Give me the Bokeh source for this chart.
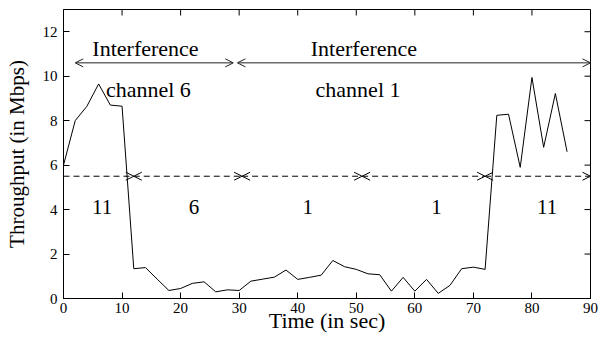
import math
from bokeh.plotting import figure
from bokeh.models import Arrow, OpenHead, Range1d, FixedTicker
from bokeh.core.properties import value
from bokeh.embed import file_html
from bokeh.resources import INLINE

# ---- data ----
time_s = [0, 2, 4, 6, 8, 10, 12, 14, 16, 18, 20, 22, 24, 26, 28, 30, 32, 34, 36, 38, 40, 42,
          44, 46, 48, 50, 52, 54, 56, 58, 60, 62, 64, 66, 68, 70, 72, 74, 76, 78, 80, 82, 84, 86]
throughput = [6.0, 8.0, 8.65, 9.65, 8.7, 8.65, 1.34, 1.39, 0.87, 0.36, 0.45, 0.68, 0.75, 0.30,
              0.39, 0.36, 0.78, 0.87, 0.96, 1.28, 0.86, 0.95, 1.05, 1.71, 1.43, 1.31, 1.11, 1.07,
              0.33, 0.95, 0.33, 0.86, 0.23, 0.59, 1.34, 1.41, 1.31, 8.24, 8.29, 5.9, 9.94, 6.8,
              9.22, 6.6]

x_ticks = [0, 10, 20, 30, 40, 50, 60, 70, 80, 90]
y_ticks = [0, 2, 4, 6, 8, 10, 12]
x_min, x_max = 0, 90
y_min, y_max = 0, 13

# interference periods (top arrows)
interf_start = [2, 29.7]
interf_end = [29, 90]
interf_y = 10.6
interf_label_x = [14.0, 51.3]
interf_label_y = [11.24, 11.24]
interf_labels = ["Interference", "Interference"]
channel_label_x = [14.5, 50.3]
channel_label_y = [9.4, 9.4]
channel_labels = ["channel 6", "channel 1"]

# operating channel periods (dashed arrows)
chan_bounds = [0, 12, 30.5, 51, 72, 90]
chan_y = 5.5
chan_label_x = [6.6, 22.3, 41.7, 63.7, 82.6]
chan_label_y = [4.11, 4.11, 4.11, 4.11, 4.11]
chan_labels = ["11", "6", "1", "1", "11"]

FONT = "Liberation Serif"

p = figure(width=598, height=335, x_range=Range1d(x_min, x_max), y_range=Range1d(y_min, y_max),
           output_backend="svg", toolbar_location=None,
           min_border_left=63, min_border_right=8, min_border_top=9, min_border_bottom=36)
p.grid.visible = False
p.outline_line_color = "black"
p.outline_line_alpha = 1.0
p.outline_line_width = 1

for ax, ticks in ((p.xaxis[0], x_ticks), (p.yaxis[0], y_ticks)):
    ax.ticker = FixedTicker(ticks=ticks)
    ax.minor_tick_line_color = None
    ax.major_tick_in = 6
    ax.major_tick_out = 0
    ax.major_tick_line_color = "black"
    ax.axis_line_color = "black"
    ax.major_label_text_font = FONT
    ax.major_label_text_font_size = "15px"
    ax.major_label_text_color = "black"
    ax.axis_label_text_font = FONT
    ax.axis_label_text_font_style = "normal"
    ax.axis_label_text_color = "black"

p.xaxis.axis_label = "Time (in sec)"
p.xaxis.axis_label_text_font_size = "22px"
p.xaxis.major_label_standoff = 4
p.xaxis.axis_label_standoff = -8
p.yaxis.axis_label = "Throughput (in Mbps)"
p.yaxis.axis_label_text_font_size = "21px"
p.yaxis.major_label_standoff = 6
p.yaxis.axis_label_standoff = 11

# mirror ticks on top and right frame edges
p.ray(x=x_ticks, y=[y_max] * len(x_ticks), length=6, length_units="screen",
      angle=-math.pi / 2, line_color="black", line_width=1)
p.ray(x=[x_max] * len(y_ticks), y=y_ticks, length=6, length_units="screen",
      angle=math.pi, line_color="black", line_width=1)

# throughput line
p.line(time_s, throughput, line_color="black", line_width=1)

# interference arrows
for xs, xe in zip(interf_start, interf_end):
    p.add_layout(Arrow(start=OpenHead(size=8, line_width=1, line_color="#222222"),
                       end=OpenHead(size=8, line_width=1, line_color="#222222"),
                       x_start=xs, y_start=interf_y, x_end=xe, y_end=interf_y,
                       line_width=1, line_color="#222222"))

# channel dashed arrows
for i in range(len(chan_bounds) - 1):
    start = None if i == 0 else OpenHead(size=8, line_width=1, line_color="black")
    p.add_layout(Arrow(start=start,
                       end=OpenHead(size=8, line_width=1, line_color="black"),
                       x_start=chan_bounds[i], y_start=chan_y,
                       x_end=chan_bounds[i + 1], y_end=chan_y,
                       line_width=1, line_color="black", line_dash="6 4"))

p.text(x=interf_label_x, y=interf_label_y, text=interf_labels, text_font=value(FONT),
       text_font_size="22px", text_align="center", text_baseline="alphabetic", text_color="black")
p.text(x=channel_label_x, y=channel_label_y, text=channel_labels, text_font=value(FONT),
       text_font_size="22px", text_align="center", text_baseline="alphabetic", text_color="black")
p.text(x=chan_label_x, y=chan_label_y, text=chan_labels, text_font=value(FONT),
       text_font_size="21px", text_align="center", text_baseline="alphabetic", text_color="black")

open("out.html", "w").write(file_html(p, INLINE))
